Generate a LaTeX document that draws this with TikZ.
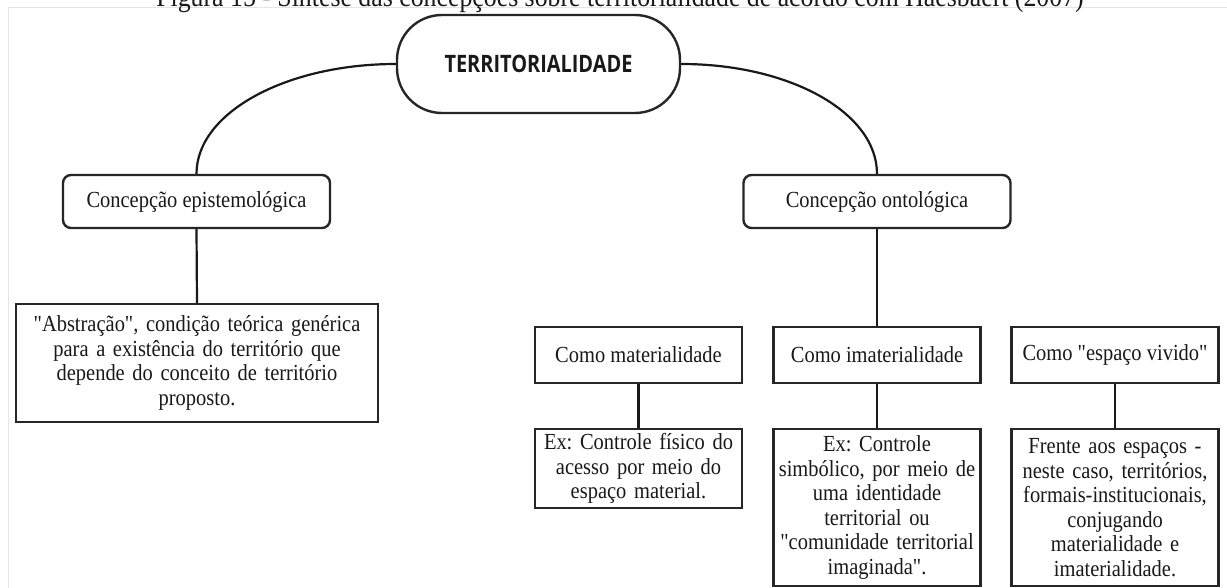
\documentclass[tikz,border=0pt]{standalone}
\usepackage{fontspec}
\setmainfont{Liberation Serif}[FakeStretch=0.89, Ligatures=TeXOff]
\newfontfamily\titulo{Open Sans}[FakeStretch=0.83]
\frenchspacing
\begin{document}
\begin{tikzpicture}[x=1pt, y=-1pt,
    every node/.style={text=black!90, font=\fontsize{23}{24.5}\selectfont},
    caixa/.style={draw=black!85, line width=2.4pt, inner sep=0pt, align=center},
    raiz/.style={caixa, rounded corners=45pt, minimum width=283pt, minimum height=98pt, font=\titulo\bfseries\fontsize{24}{26}\selectfont},
    conc/.style={caixa, rounded corners=8pt, minimum width=267pt, minimum height=53pt},
    modo/.style={caixa, minimum width=207pt, minimum height=56pt},
    exemplo/.style={caixa, anchor=north, text width=207pt},
    liga/.style={draw=black!90, line width=2.2pt}]
\useasboundingbox (0,0) rectangle (1227,588);
\clip (0,0) rectangle (1227,588);
\fill[white] (0,0) rectangle (1227,588);
\draw[black!10, line width=1pt] (8,7.5) rectangle (1240,600);

\node[anchor=base, font=\fontsize{29}{30}\selectfont] (cap) at (620,7) {Figura 15 - Síntese das concepções sobre territorialidade de acordo com Haesbaert (2007)};

\node[raiz] (terr) at (538.5,64) {TERRITORIALIDADE};

\node[conc] (epi) at (196.5,201.5) {Concepção epistemológica};
\node[conc] (onto) at (877,201.5) {Concepção ontológica};

\node[caixa, anchor=north, text width=362pt, minimum height=118pt] (abst) at (197,303)
    {"Abstração", condição teórica genérica\\para a existência do território que\\depende do conceito de território\\proposto.};

\node[modo] (mat) at (638.5,355) {Como materialidade};
\node[modo] (imat) at (877,355) {Como imaterialidade};
\node[modo] (viv) at (1115,355) {Como "espaço vivido"};

\node[exemplo, minimum height=79pt] (exmat) at (638.5,428)
    {Ex: Controle físico do\\acesso por meio do\\espaço material.};
\node[exemplo, minimum height=157pt] (eximat) at (877,428)
    {Ex: Controle\\simbólico, por meio de\\uma identidade\\territorial ou\\"comunidade territorial\\imaginada".};
\node[exemplo, minimum height=157pt] (exviv) at (1115,428)
    {Frente aos espaços -\\neste caso, territórios,\\formais-institucionais,\\conjugando\\materialidade e\\imaterialidade.};

\draw[liga] (terr.west) .. controls +(-110,0) and +(0,-61) .. (epi.north);
\draw[liga] (terr.east) .. controls +(109,0) and +(0,-61) .. (onto.north);
\draw[liga] (epi.south) -- (abst.north);
\draw[liga] (onto.south) -- (imat.north);
\foreach \a/\b in {mat/exmat, imat/eximat, viv/exviv}
{
    \draw[liga] (\a.south) -- (\b.north);
}
\end{tikzpicture}
\end{document}
